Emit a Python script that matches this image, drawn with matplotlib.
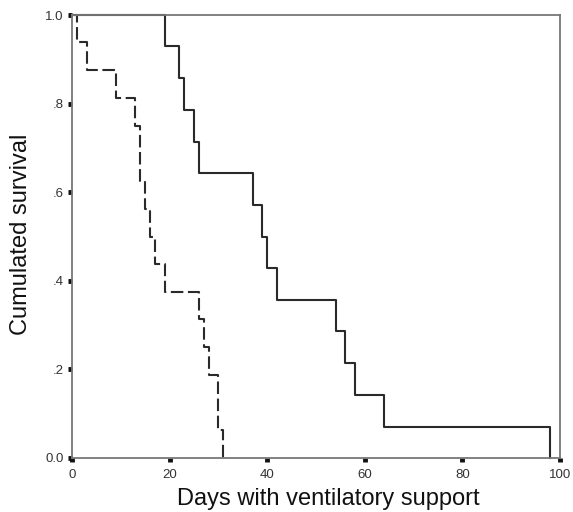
import matplotlib
matplotlib.use("Agg")
import matplotlib.pyplot as plt

# Solid group (step times in days, survival after each step)
solid_days = [0, 19, 22, 23, 25, 26, 37, 39, 40, 42, 54, 56, 58, 64, 98]
solid_surv = [1.0, 0.929, 0.857, 0.786, 0.714, 0.643, 0.571, 0.500,
              0.429, 0.357, 0.286, 0.214, 0.143, 0.071, 0.0]

# Dashed group
dash_days = [0, 1, 3, 9, 13, 14, 15, 16, 17, 19, 26, 27, 28, 30, 31]
dash_surv = [1.0, 0.938, 0.875, 0.813, 0.750, 0.625, 0.563, 0.500,
             0.438, 0.375, 0.313, 0.250, 0.188, 0.063, 0.0]

x_ticks = [0, 20, 40, 60, 80, 100]
x_tick_labels = ["0", "20", "40", "60", "80", "100"]
y_ticks = [0.0, 0.2, 0.4, 0.6, 0.8, 1.0]
y_tick_labels = ["0.0", ".2", ".4", ".6", ".8", "1.0"]

plt.rcParams['font.family'] = ['Liberation Sans', 'DejaVu Sans']

W, H = 573, 512
fig = plt.figure(figsize=(W / 100, H / 100), dpi=100)
ax = fig.add_axes([72 / W, 1 - 458 / H, (560 - 72) / W, (458 - 15) / H])

line_col = '#2a2a2a'
ax.plot(solid_days, solid_surv, drawstyle='steps-post', color=line_col,
        lw=1.5, clip_on=False)
ax.plot(dash_days, dash_surv, drawstyle='steps-post', color=line_col,
        lw=1.5, linestyle=(0, (6, 2.2)), clip_on=False)

ax.set_xlim(0, 100)
ax.set_ylim(0, 1.0)
ax.set_xticks(x_ticks)
ax.set_xticklabels(x_tick_labels)
ax.set_yticks(y_ticks)
ax.set_yticklabels(y_tick_labels)

for s in ax.spines.values():
    s.set_color('#777777')
    s.set_linewidth(1.3)

ax.tick_params(axis='both', direction='out', length=3, width=3.5,
               color='#111111', labelsize=9.5, labelcolor='#333333')
ax.tick_params(axis='x', pad=5)
ax.tick_params(axis='y', pad=3)

fig.text(328 / W, 1 - 499 / H, "Days with ventilatory support",
         fontsize=17, color='#111111', ha='center', va='center')
fig.text(21.5 / W, 1 - 234 / H, "Cumulated survival", rotation=90,
         fontsize=17, color='#111111', ha='center', va='center')

fig.savefig("out.png", dpi=100)
